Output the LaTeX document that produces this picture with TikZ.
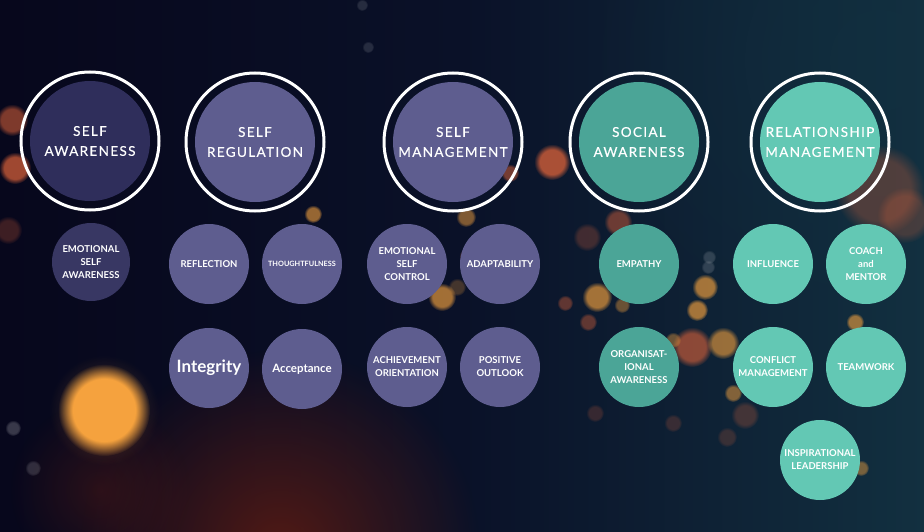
\documentclass[tikz,border=0pt]{standalone}
\usepackage{fontspec}
\setmainfont{Lato}
\newfontfamily\hdrfont[LetterSpace=10,FakeBold=0.4]{Lato}
\usetikzlibrary{fadings}
\tikzfading[name=softfade, inner color=transparent!0, outer color=transparent!100]
\pgfdeclareradialshading{coreshade}{\pgfpoint{0bp}{0bp}}{color(0bp)=(white); color(17bp)=(white); color(25bp)=(black); color(50bp)=(black)}
\pgfdeclarefading{corefade}{\pgfuseshading{coreshade}}
\definecolor{bgl}{HTML}{07071C}
\definecolor{bgm}{HTML}{0A1128}
\definecolor{bgr}{HTML}{123040}
\definecolor{sadark}{HTML}{2F2E5B}
\definecolor{sadarksm}{HTML}{383763}
\definecolor{purp}{HTML}{5E5D8F}
\definecolor{tealdk}{HTML}{4BA597}
\definecolor{teallt}{HTML}{63C8B4}
\definecolor{bokeh}{HTML}{F5A23E}
\definecolor{bokehred}{HTML}{E0643A}
\definecolor{glowred}{HTML}{5E1C12}
\tikzset{
  ring/.style={circle, draw=white, line width=3pt, minimum size=138pt, inner sep=0pt},
  hdr/.style={circle, minimum size=120pt, inner sep=0pt, text=white, align=center,
    font=\hdrfont\fontsize{13.5}{20}\selectfont},
  sm/.style={circle, minimum size=80pt, inner sep=0pt, text=white, align=center,
    font=\bfseries\fontsize{9.5}{13}\selectfont},
  soft/.style={fill=#1, path fading=softfade},
  dot/.style={fill=#1, path fading=corefade},
}
\begin{document}
\begin{tikzpicture}[x=1pt,y=-1pt]
\useasboundingbox (0,0) rectangle (924,532);
% background
\shade[left color=bgl, right color=bgr, middle color=bgm] (0,0) rectangle (924,532);
\fill[soft=bgr, opacity=0.6] (880,60) circle (300);
% bokeh
\fill[soft=glowred, opacity=0.85] (280,550) circle (200);
\fill[soft=glowred, opacity=0.4] (100,490) circle (90);
\fill[soft=bokeh, opacity=0.3] (104,410) circle (55);
\fill[dot=bokeh] (104,410) circle (46);
\fill[dot=bokehred, opacity=0.55] (12,120) circle (16);
\fill[dot=bokehred, opacity=0.7] (15,168) circle (16);
\fill[dot=bokehred, opacity=0.25] (8,230) circle (14);
\fill[dot=bokehred, opacity=0.75] (552,162) circle (18);
\fill[dot=bokeh, opacity=0.5] (466,217) circle (10);
\fill[dot=bokehred, opacity=0.45] (618,222) circle (14);
\fill[dot=bokehred, opacity=0.25] (587,237) circle (14);
\fill[dot=bokeh, opacity=0.65] (442,297) circle (14);
\fill[dot=bokeh, opacity=0.65] (597,297) circle (15);
\fill[dot=bokehred, opacity=0.4] (565,303) circle (8);
\fill[dot=bokeh, opacity=0.4] (622,305) circle (8);
\fill[dot=bokehred, opacity=0.4] (588,322) circle (9);
\fill[dot=bokeh, opacity=0.65] (705,287) circle (13);
\fill[dot=bokeh, opacity=0.65] (697,310) circle (11);
\fill[dot=bokehred, opacity=0.6] (692,347) circle (20);
\fill[dot=bokeh, opacity=0.6] (723,343) circle (16);
\fill[dot=bokeh, opacity=0.4] (673,340) circle (8);
\fill[dot=bokeh, opacity=0.5] (733,393) circle (9);
\fill[dot=white, opacity=0.15] (709,257) circle (7);
\fill[dot=white, opacity=0.15] (708,267) circle (7);
\fill[dot=bokehred, opacity=0.2] (595,413) circle (9);
\fill[dot=bokehred, opacity=0.2] (673,423) circle (9);
\fill[dot=bokehred, opacity=0.2] (727,437) circle (10);
\fill[dot=bokehred, opacity=0.5] (510,173) circle (9);
\fill[dot=bokeh, opacity=0.25] (457,287) circle (9);
\fill[dot=bokeh, opacity=0.6] (313,214) circle (9);
\fill[dot=bokehred, opacity=0.4] (467,256) circle (8);
\fill[dot=bokehred, opacity=0.3] (880,190) circle (45);
\fill[dot=bokehred, opacity=0.25] (905,215) circle (28);
\fill[dot=bokeh, opacity=0.6] (855,322) circle (9);
\fill[dot=bokeh, opacity=0.45] (861,468) circle (8);
\fill[dot=white, opacity=0.2] (13,428) circle (8);
\fill[dot=white, opacity=0.15] (33,468) circle (8);
\fill[dot=white, opacity=0.12] (362,5) circle (6);
\fill[dot=white, opacity=0.12] (368,47) circle (6);
\fill[dot=bokehred, opacity=0.25] (745,415) circle (14);

% header rings and circles
\node[ring] (r1) at (90,141) {};
\node[hdr, fill=sadark] (h1) at (90,141) {SELF\\AWARENESS};
\node[ring] (r2) at (255,142) {};
\node[hdr, fill=purp] (h2) at (255,142) {SELF\\REGULATION};
\node[ring] (r3) at (453,142) {};
\node[hdr, fill=purp] (h3) at (453,142) {SELF\\MANAGEMENT};
\node[ring] (r4) at (639,142) {};
\node[hdr, fill=tealdk] (h4) at (639,142) {SOCIAL\\AWARENESS};
\node[ring] (r5) at (820,142) {};
\node[hdr, fill=teallt] (h5) at (820,142) {RELATIONSHIP\\MANAGEMENT};

% competencies
\node[sm, fill=sadarksm, minimum size=78pt] (esa) at (91,262) {EMOTIONAL\\SELF\\AWARENESS};
\node[sm, fill=purp] (refl) at (209,264) {REFLECTION};
\node[sm, fill=purp, font=\bfseries\fontsize{7.3}{9}\selectfont] (thou) at (302,264) {THOUGHTFULNESS};
\node[sm, fill=purp] (esc) at (407,264) {EMOTIONAL\\SELF\\CONTROL};
\node[sm, fill=purp] (adap) at (500,264) {ADAPTABILITY};
\node[sm, fill=tealdk] (emp) at (639,264) {EMPATHY};
\node[sm, fill=teallt] (infl) at (773,264) {INFLUENCE};
\node[sm, fill=teallt] (coach) at (866,264) {COACH\\and\\MENTOR};

\node[sm, fill=purp, font=\bfseries\fontsize{17}{20}\selectfont] (integ) at (209,368) {Integrity};
\node[sm, fill=purp, font=\bfseries\fontsize{11.5}{14}\selectfont] (accept) at (302,369) {Acceptance};
\node[sm, fill=purp] (ach) at (407,367) {ACHIEVEMENT\\ORIENTATION};
\node[sm, fill=purp] (pos) at (500,367) {POSITIVE\\OUTLOOK};
\node[sm, fill=tealdk] (org) at (639,367) {ORGANISAT-\\IONAL\\AWARENESS};
\node[sm, fill=teallt] (conf) at (773,367) {CONFLICT\\MANAGEMENT};
\node[sm, fill=teallt] (team) at (866,367) {TEAMWORK};
\node[sm, fill=teallt] (insp) at (820,460) {INSPIRATIONAL\\LEADERSHIP};
\end{tikzpicture}
\end{document}
